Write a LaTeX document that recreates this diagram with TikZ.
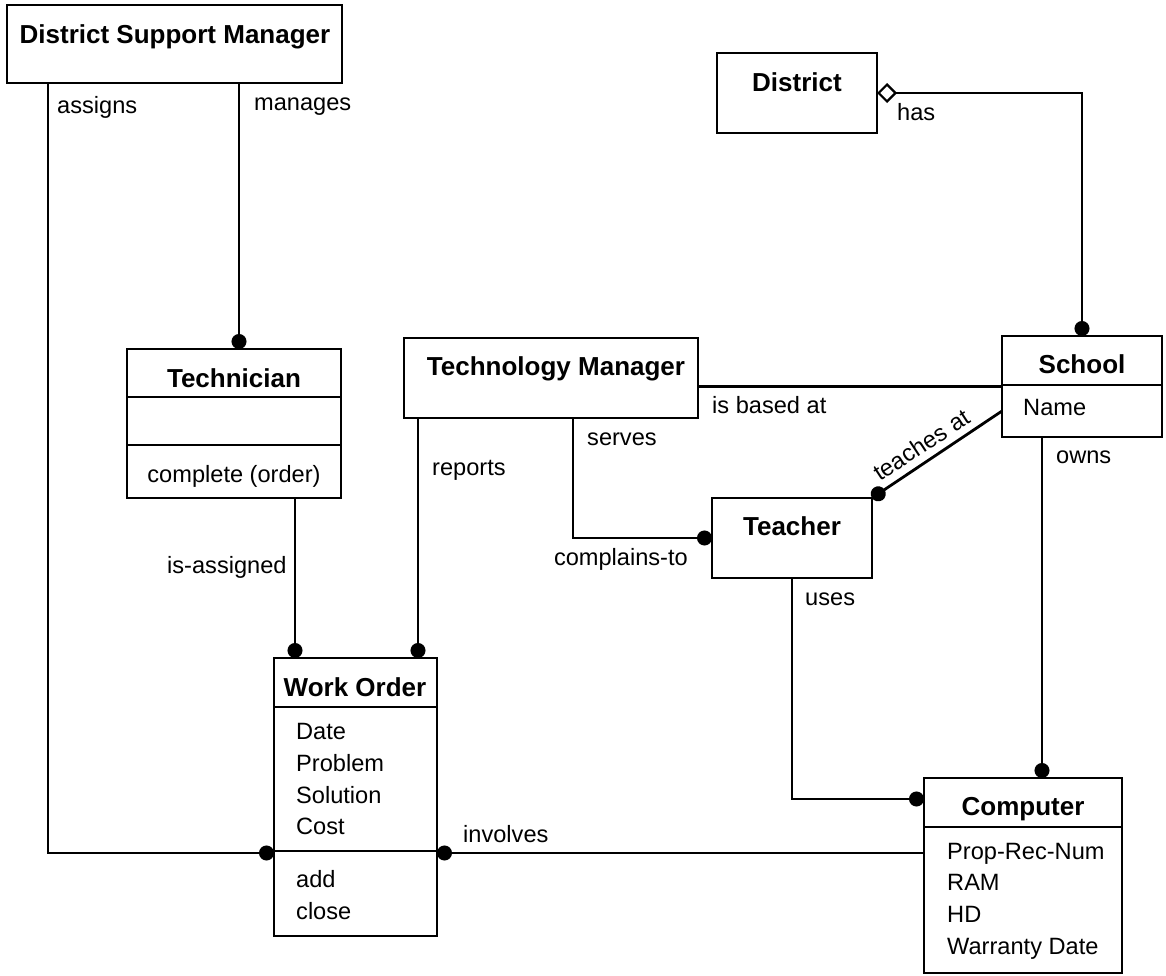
\documentclass[tikz,border=0pt]{standalone}
\usepackage{fontspec}
\setmainfont{Liberation Sans}
\usetikzlibrary{arrows.meta,calc}

\tikzset{
  box/.style={draw, line width=2.8pt, inner sep=0pt, outer sep=0pt},
  conn/.style={line width=2.8pt},
  part/.style={line width=2.8pt},
  dotend/.style={-{Circle[length=15pt,width=15pt]}},
  dotstart/.style={{Circle[length=15pt,width=15pt]}-},
  title/.style={font=\bfseries\fontsize{26}{30}\selectfont, inner sep=0pt, anchor=base},
  lbl/.style={font=\fontsize{23.6}{28}\selectfont, inner sep=0pt, anchor=base west},
}

\begin{document}
\begin{tikzpicture}[x=1pt,y=-1pt]
\fill[white] (0,0) rectangle (1166,975);
\useasboundingbox (0,0) rectangle (1166,975);

% class boxes
\node[box, minimum width=335pt, minimum height=78pt]  (dsm)      at (174.5,44)  {};
\node[box, minimum width=160pt, minimum height=80pt]  (district) at (797,93)    {};
\node[box, minimum width=214pt, minimum height=149pt] (tech)     at (234,423.5) {};
\node[box, minimum width=294pt, minimum height=80pt]  (tm)       at (551,378)   {};
\node[box, minimum width=160pt, minimum height=101pt] (school)   at (1082,386.5){};
\node[box, minimum width=160pt, minimum height=80pt]  (teacher)  at (792,538)   {};
\node[box, minimum width=163pt, minimum height=278pt] (wo)       at (355.5,797) {};
\node[box, minimum width=198pt, minimum height=195pt] (comp)     at (1023,875.5){};

% compartment dividers
\draw[part] ($(tech.north west)+(0,48)$) -- ($(tech.north east)+(0,48)$);
\draw[part] ($(tech.north west)+(0,96)$) -- ($(tech.north east)+(0,96)$);
\draw[part] ($(school.north west)+(0,49)$) -- ($(school.north east)+(0,49)$);
\draw[part] ($(wo.north west)+(0,49)$) -- ($(wo.north east)+(0,49)$);
\draw[part] ($(wo.north west)+(0,193)$) -- ($(wo.north east)+(0,193)$);
\draw[part] ($(comp.north west)+(0,49)$) -- ($(comp.north east)+(0,49)$);

% class names
\node[title] (tdsm)      at (175,43)   {District Support Manager};
\node[title] (tdistrict) at (797,91)   {District};
\node[title] (ttech)     at (234,387)  {Technician};
\node[title] (ttm)       at (556,375)  {Technology Manager};
\node[title] (tschool)   at (1082,373) {School};
\node[title] (tteacher)  at (792,535)  {Teacher};
\node[title] (two)       at (355,696)  {Work Order};
\node[title] (tcomp)     at (1023,815) {Computer};

% attributes and operations
\node[lbl, anchor=base] (opcomplete) at (234,482) {complete (order)};
\node[lbl] (aname)     at (1023,415) {Name};
\node[lbl] (adate)     at (296,739)  {Date};
\node[lbl] (aproblem)  at (296,771)  {Problem};
\node[lbl] (asolution) at (296,803)  {Solution};
\node[lbl] (acost)     at (296,834)  {Cost};
\node[lbl] (opadd)     at (296,887)  {add};
\node[lbl] (opclose)   at (296,919)  {close};
\node[lbl] (aprop)     at (947,859)  {Prop-Rec-Num};
\node[lbl] (aram)      at (947,890)  {RAM};
\node[lbl] (ahd)       at (947,922)  {HD};
\node[lbl] (awarranty) at (947,954)  {Warranty Date};

% associations
\draw[conn, dotend] ($(dsm.south west)+(41,0)$) |- ($(wo.west)+(0,56)$);
\draw[conn, dotend] ($(dsm.south west)+(232,0)$) coordinate (mg) -- (mg |- tech.north);
\draw[conn, dotend] ($(tech.south)+(61,0)$) coordinate (ia) -- (ia |- wo.north);
\draw[conn, dotend] ($(tm.south west)+(14,0)$) coordinate (rp) -- (rp |- wo.north);
\draw[conn] (school.west -| tm.east) -- (school.west);
\draw[conn, dotend] ($(tm.south west)+(169,0)$) |- (teacher.west);
\draw[conn, dotend] ($(school.west)+(0,24.5)$) -- (teacher.north east);
\draw[conn, {Diamond[open,fill=white,length=20pt,width=20pt,line width=2.2pt]}-{Circle[length=15pt,width=15pt]}]
  (district.east) -| (school.north);
\draw[conn, dotend] ($(school.south west)+(40,0)$) coordinate (ow) -- (ow |- comp.north);
\draw[conn, dotend] (teacher.south) |- ($(comp.west)+(0,-76.5)$);
\draw[conn, dotstart] ($(wo.east)+(0,56)$) coordinate (inv) -- (inv -| comp.west);

% association labels
\node[lbl] (lassigns)    at (57,113)  {assigns};
\node[lbl] (lmanages)    at (254,110) {manages};
\node[lbl] (lhas)        at (897,120) {has};
\node[lbl] (lisassigned) at (167,573) {is-assigned};
\node[lbl] (lreports)    at (432,475) {reports};
\node[lbl] (lserves)     at (587,445) {serves};
\node[lbl] (lbased)      at (712,413) {is based at};
\node[lbl, anchor=base east] (lcomplains) at (688,565) {complains-to};
\node[lbl] (luses)       at (805,605) {uses};
\node[lbl] (lowns)       at (1056,463) {owns};
\node[lbl] (linvolves)   at (463,842) {involves};
\node[lbl, anchor=base, rotate=33.3] (lteaches) at (926,452) {teaches at};
\end{tikzpicture}
\end{document}
